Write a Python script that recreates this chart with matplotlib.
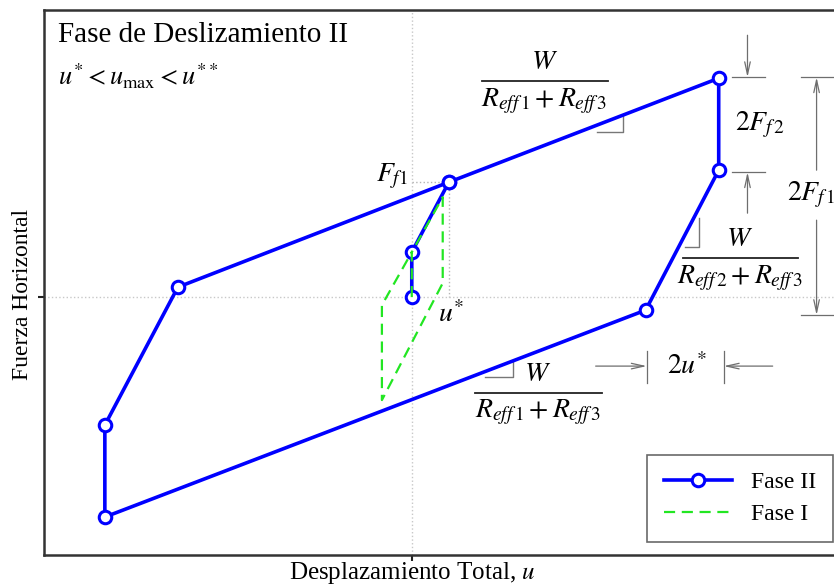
import numpy as np
import matplotlib.pyplot as plt
from matplotlib.lines import Line2D

plt.rcParams["font.family"] = "Liberation Serif"
plt.rcParams["mathtext.fontset"] = "stix"

# ---- loops (displacement u, horizontal force F) ----
u_fase2 = [0.0, 0.0, 1.03, 8.53, 8.53, 6.50, -8.53, -8.53, -6.50, 1.03]
F_fase2 = [0.0, 0.45, 1.15, 2.19, 1.27, -0.13, -2.20, -1.28, 0.10, 1.15]

u_fase1 = [0.0, 0.0, 0.86, 0.86, -0.83, -0.83, 0.0]
F_fase1 = [0.0, 0.45, 1.00, 0.14, -1.03, -0.08, 0.45]

U_STAR = 1.03
F_F1 = 1.15

BLUE = "#0000ff"
GREEN = "#22e622"
DIM = "#6e6e6e"
MATH_FS = 20

fig = plt.figure(figsize=(8.34, 5.87), dpi=100)
ax = fig.add_axes([0.0528, 0.0545, 0.966, 0.928])
ax.set_xlim(-10.22, 12.17)
ax.set_ylim(-2.58, 2.87)

# reference grid through origin
ax.axvline(0, color="#c8c8c8", lw=1.0, ls=":", zorder=0)
ax.axhline(0, color="#c8c8c8", lw=1.0, ls=":", zorder=0)
ax.plot([0, U_STAR], [F_F1, F_F1], color="#b4b4b4", lw=1.0, ls=":", zorder=0)
ax.plot([U_STAR, U_STAR], [F_F1, 0], color="#b4b4b4", lw=1.0, ls=":", zorder=0)

ax.plot(u_fase2, F_fase2, color=BLUE, lw=2.6, marker="o", ms=9,
        mfc="white", mec=BLUE, mew=2.2, zorder=3, label="Fase II")
ax.plot(u_fase1, F_fase1, color=GREEN, lw=1.6, ls=(0, (5, 3)), zorder=4,
        label="Fase I")

ax.set_xticks([0])
ax.set_yticks([0])
ax.set_xticklabels([])
ax.set_yticklabels([])
ax.tick_params(direction="out", length=4, width=1.5, color="#222222")
for s in ax.spines.values():
    s.set_linewidth(1.8)
    s.set_color("#333333")

# axis titles
fig.text(412 / 834, 1 - 573 / 587, "Desplazamiento Total, $u$", fontsize=18,
         ha="center", va="center")
fig.text(23 / 834, 1 - 294 / 587, "Fuerza Horizontal", fontsize=17,
         rotation=90, ha="center", va="center")

ax.text(0.017, 0.978, "Fase de Deslizamiento II", transform=ax.transAxes,
        fontsize=21, ha="left", va="top")
ax.text(0.017, 0.905, r"$u^{*} < u_{\max} < u^{**}$", transform=ax.transAxes,
        fontsize=19, ha="left", va="top")


def fraction(xc, y_line, x0, x1, den):
    ax.text(xc, y_line + 0.06, "$W$", fontsize=MATH_FS, ha="center", va="bottom")
    ax.plot([x0, x1], [y_line, y_line], color="#222222", lw=1.3)
    ax.text(xc, y_line - 0.05, den, fontsize=MATH_FS, ha="center", va="top")


fraction(3.69, 2.16, 1.94, 5.44, r"$R_{eff\,1} + R_{eff\,3}$")
fraction(9.11, 0.39, 7.53, 10.72, r"$R_{eff\,2} + R_{eff\,3}$")
fraction(3.50, -0.96, 1.75, 5.28, r"$R_{eff\,1} + R_{eff\,3}$")

# slope marks
slope_kw = dict(color="#777777", lw=1.0)
ax.plot([5.14, 5.86, 5.86], [1.65, 1.65, 1.81], **slope_kw)
ax.plot([7.58, 7.97, 7.97], [0.50, 0.50, 0.79], **slope_kw)
ax.plot([2.03, 2.81, 2.81], [-0.80, -0.80, -0.65], **slope_kw)

ax.text(-0.11, 1.21, r"$F_{f1}$", fontsize=MATH_FS, ha="right", va="center")
ax.text(0.72, -0.17, r"$u^{*}$", fontsize=MATH_FS, ha="left", va="center")

# dimension lines
arr = dict(arrowstyle="->,head_length=0.9,head_width=0.2", color=DIM, lw=0.9,
           shrinkA=0, shrinkB=0)
line_kw = dict(color=DIM, lw=0.9)

# 2F_f2
ax.plot([8.89, 9.81], [2.20, 2.20], **line_kw)
ax.plot([8.89, 9.81], [1.25, 1.25], **line_kw)
ax.annotate("", xy=(9.33, 2.20), xytext=(9.33, 2.62), arrowprops=arr)
ax.annotate("", xy=(9.33, 1.25), xytext=(9.33, 0.84), arrowprops=arr)
ax.text(8.97, 1.72, r"$2F_{f\,2}$", fontsize=MATH_FS, ha="left", va="center")

# 2F_f1
ax.plot([10.83, 12.0], [2.20, 2.20], **line_kw)
ax.plot([10.83, 12.0], [-0.18, -0.18], **line_kw)
ax.annotate("", xy=(11.25, 2.20), xytext=(11.25, 1.27), arrowprops=arr)
ax.annotate("", xy=(11.25, -0.18), xytext=(11.25, 0.77), arrowprops=arr)
ax.text(10.44, 1.02, r"$2F_{f\,1}$", fontsize=MATH_FS, ha="left", va="center")

# 2u*
ax.plot([6.53, 6.53], [-0.54, -0.86], **line_kw)
ax.plot([8.67, 8.67], [-0.54, -0.86], **line_kw)
ax.annotate("", xy=(6.53, -0.69), xytext=(5.11, -0.69), arrowprops=arr)
ax.annotate("", xy=(8.67, -0.69), xytext=(10.03, -0.69), arrowprops=arr)
ax.text(7.64, -0.69, r"$2u^{*}$", fontsize=MATH_FS, ha="center", va="center")

leg = ax.legend(loc="upper left", bbox_to_anchor=(647 / 834, 1 - 455 / 587),
                bbox_transform=fig.transFigure, borderaxespad=0, fontsize=17,
                fancybox=False, handlelength=2.9, labelspacing=0.45,
                borderpad=0.7, handletextpad=0.8)
leg.get_frame().set_edgecolor("#444444")
leg.get_frame().set_linewidth(1.2)

fig.savefig("out.png", dpi=100)
